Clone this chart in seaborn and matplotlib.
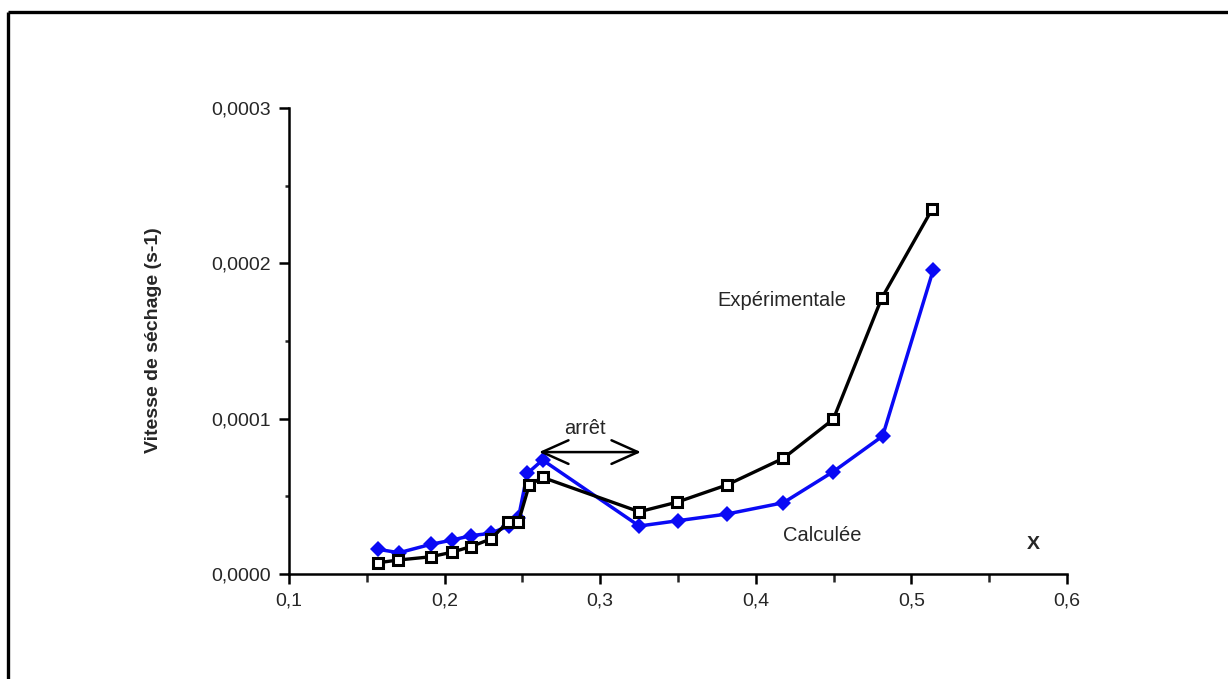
import matplotlib
matplotlib.use("Agg")
import matplotlib.pyplot as plt
from matplotlib.lines import Line2D
from matplotlib.ticker import MultipleLocator, FuncFormatter
import seaborn as sns
import pandas as pd

# Measured drying rate (open squares)
x_exp = [0.1574, 0.1702, 0.1911, 0.2046, 0.2168, 0.2296, 0.2406, 0.2474, 0.2544,
         0.2630, 0.3251, 0.3492, 0.3813, 0.4177, 0.4498, 0.4809, 0.5134]
v_exp = [7.3e-6, 9.0e-6, 1.11e-5, 1.40e-5, 1.76e-5, 2.25e-5, 3.33e-5, 3.33e-5, 5.73e-5,
         6.22e-5, 4.01e-5, 4.62e-5, 5.73e-5, 7.45e-5, 9.96e-5, 1.775e-4, 2.35e-4]

# Model drying rate (filled diamonds)
x_calc = [0.1574, 0.1707, 0.1911, 0.2050, 0.2170, 0.2296, 0.2416, 0.2474, 0.2532,
          0.2630, 0.3251, 0.3498, 0.3813, 0.4177, 0.4498, 0.4815, 0.5141]
v_calc = [1.59e-5, 1.37e-5, 1.91e-5, 2.19e-5, 2.47e-5, 2.62e-5, 3.11e-5, 3.59e-5, 6.48e-5,
          7.34e-5, 3.09e-5, 3.43e-5, 3.86e-5, 4.59e-5, 6.59e-5, 8.88e-5, 1.96e-4]

x_ticks = [0.1, 0.2, 0.3, 0.4, 0.5, 0.6]
y_ticks = [0.0, 0.0001, 0.0002, 0.0003]

sns.set_style("ticks")
plt.rcParams["font.family"] = ["Liberation Sans", "DejaVu Sans"]

fig = plt.figure(figsize=(12.28, 6.79), dpi=100)
ax = fig.add_axes([0.2353, 0.1546, 0.6336, 0.6863])

df_exp = pd.DataFrame({"X": x_exp, "v": v_exp})
df_calc = pd.DataFrame({"X": x_calc, "v": v_calc})

sns.lineplot(data=df_calc, x="X", y="v", sort=False, ax=ax, color="#0a0af5",
             linewidth=2.5, marker="D", markersize=8.5, markeredgewidth=0,
             markerfacecolor="#0a0af5", clip_on=False, zorder=3)
sns.lineplot(data=df_exp, x="X", y="v", sort=False, ax=ax, color="black",
             linewidth=2.4, marker="s", markersize=7.5, markeredgewidth=2.2,
             markerfacecolor="white", markeredgecolor="black", clip_on=False, zorder=4)

ax.set_xlim(0.1, 0.6)
ax.set_ylim(0.0, 0.0003)
ax.set_xticks(x_ticks)
ax.set_yticks(y_ticks)
ax.xaxis.set_minor_locator(MultipleLocator(0.05))
ax.yaxis.set_minor_locator(MultipleLocator(0.00005))
ax.xaxis.set_major_formatter(FuncFormatter(lambda v, p: f"{v:.1f}".replace(".", ",")))
ax.yaxis.set_major_formatter(FuncFormatter(lambda v, p: f"{v:.4f}".replace(".", ",")))
ax.tick_params(axis="both", which="major", direction="out", length=7, width=1.8,
               labelsize=14, color="black", pad=6)
ax.tick_params(axis="x", which="minor", direction="out", length=6, width=1.8)
ax.tick_params(axis="y", which="minor", direction="out", length=3, width=1.8)
ax.set_xlabel("")
ax.set_ylabel("")
sns.despine(ax=ax)
for s in ("left", "bottom"):
    ax.spines[s].set_linewidth(1.8)
    ax.spines[s].set_color("black")

# Series captions and axis annotation
ax.text(0.4168, 1.764e-4, "Expérimentale", fontsize=14.5, ha="center", va="center")
ax.text(0.4425, 2.51e-5, "Calculée", fontsize=14.5, ha="center", va="center")
ax.text(0.5781, 1.87e-5, "X", fontsize=14, fontweight="bold", ha="center", va="center")
ax.text(0.2902, 9.4e-5, "arrêt", fontsize=14.5, ha="center", va="center")
ax.annotate("", xy=(0.2607, 7.85e-5), xytext=(0.3262, 7.85e-5),
            arrowprops=dict(arrowstyle="<->,head_length=1.9,head_width=0.85",
                            color="black", linewidth=1.8, shrinkA=0, shrinkB=0))

fig.text(153 / 1228, 1 - 340 / 679, "Vitesse de séchage (s-1)", rotation=90,
         fontsize=14, fontweight="bold", ha="center", va="center")

# Page frame along the top and left edges
fx = 7.5 / 1228
fy = 1 - 11.5 / 679
fig.add_artist(Line2D([fx, 1.0], [fy, fy], transform=fig.transFigure,
                      color="black", linewidth=2.4, solid_capstyle="butt"))
fig.add_artist(Line2D([fx, fx], [fy, 0.0], transform=fig.transFigure,
                      color="black", linewidth=2.4, solid_capstyle="butt"))

fig.savefig("out.png", dpi=100, facecolor="white")
